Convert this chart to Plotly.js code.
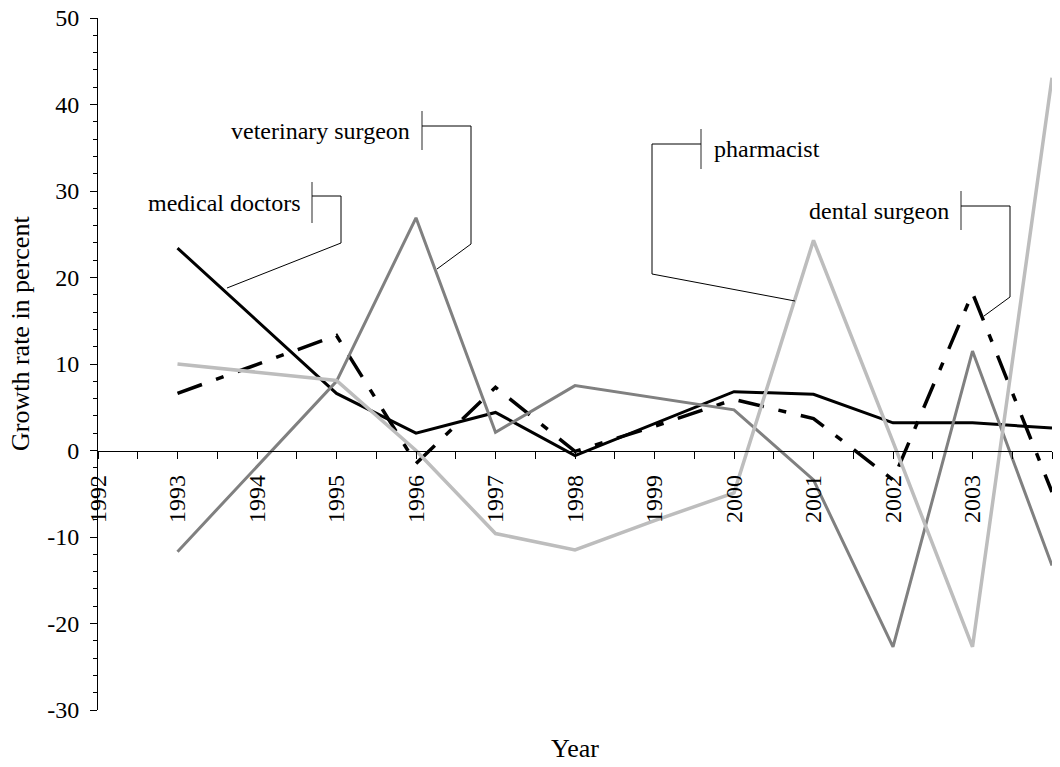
<!DOCTYPE html>
<html><head><meta charset="utf-8">
<script src="https://cdn.plot.ly/plotly-3.0.1.min.js"></script>
<style>html,body{margin:0;padding:0;background:#fff}#chart{width:1060px;height:767px}</style>
</head><body><div id="chart"></div>
<script>
// ---- data ----
const years = [1993,1994,1995,1996,1997,1998,1999,2000,2001,2002,2003,2004];
const medicalDoctors    = [23.4, 15.0,  6.6,  2.0,  4.4, -0.6,  3.1,  6.8,  6.5,   3.2,   3.2,   2.6];
const veterinarySurgeon = [-11.7, -1.8, 8.0, 26.9,  2.1,  7.5,  6.1,  4.7, -3.4, -22.7,  11.5, -13.3];
const pharmacist        = [10.0,  9.0,  8.1,  0.0, -9.6, -11.5, -8.1, -4.9, 24.3,   1.0, -22.7,  43.1];
const dentalSurgeon     = [ 6.6, 10.0, 13.3, -1.5,  7.3, -0.1,  2.8,  5.9,  3.7,  -3.4,  18.2,  -4.8];
const tickYears = [1992,1993,1994,1995,1996,1997,1998,1999,2000,2001,2002,2003,2004];
const tickLabels = tickYears.map(String);
const yTickVals = [-30,-20,-10,0,10,20,30,40,50];
const yTickLabels = ['-30','-20','-10','0','10','20','30','40','50'];
const seriesNames = ['medical doctors','veterinary surgeon','pharmacist','dental surgeon'];

// ---- layout helpers (pixel -> paper) ----
const L = 98, R = 1052, T = 18, B = 710;
const px = x => (x - L) / (R - L);
const py = y => (B - y) / (B - T);
const FONT = 'Liberation Serif, Times New Roman, serif';

const traces = [
  {x: years, y: medicalDoctors, name: seriesNames[0], mode: 'lines',
   line: {color: '#000000', width: 3}},
  {x: years, y: dentalSurgeon, name: seriesNames[3], mode: 'lines',
   line: {color: '#000000', width: 3.5, dash: '26px,15px,8px,15px'}},
  {x: years, y: veterinarySurgeon, name: seriesNames[1], mode: 'lines',
   line: {color: '#808080', width: 3}},
  {x: years, y: pharmacist, name: seriesNames[2], mode: 'lines',
   line: {color: '#bdbdbd', width: 3.5}}
];

function seg(x0, y0, x1, y1, color, width) {
  return {type: 'line', xref: 'paper', yref: 'paper',
    x0: px(x0), y0: py(y0), x1: px(x1), y1: py(y1),
    line: {color: color, width: width}};
}
function callout(bar, pts) {
  const out = [seg(bar[0], bar[1], bar[0], bar[2], '#707070', 1.5)];
  for (let i = 0; i < pts.length - 1; i++) {
    out.push(seg(pts[i][0], pts[i][1], pts[i+1][0], pts[i+1][1], '#000000', 1));
  }
  return out;
}
const shapes = [].concat(
  callout([312, 182, 223], [[312,196],[341,196],[341,243],[227,288]]),
  callout([422, 111, 150], [[422,126],[471,126],[471,244],[437,269]]),
  callout([701, 129, 169], [[701,144],[652,144],[652,274],[795,301]]),
  callout([961, 191, 230], [[961,206],[1010,206],[1010,297],[984,316]])
);

function label(text, x, y, anchor) {
  return {text: text, xref: 'paper', yref: 'paper', x: px(x), y: py(y),
    xanchor: anchor, yanchor: 'middle', showarrow: false,
    font: {family: FONT, size: 24, color: '#000'}};
}
const annotations = [
  label(seriesNames[0], 303, 203, 'right'),
  label(seriesNames[1], 412, 131, 'right'),
  label(seriesNames[2], 712, 149, 'left'),
  label(seriesNames[3], 951, 211, 'right'),
  {text: 'Year', xref: 'paper', yref: 'paper', x: 0.5, y: py(748),
   xanchor: 'center', yanchor: 'middle', showarrow: false,
   font: {family: FONT, size: 26, color: '#000'}},
  {text: 'Growth rate in percent', xref: 'paper', yref: 'paper', x: px(20), y: py(334),
   xanchor: 'center', yanchor: 'middle', textangle: -90, showarrow: false,
   font: {family: FONT, size: 26, color: '#000'}}
];

const layout = {
  width: 1060, height: 767,
  margin: {l: L, r: 1060 - R, t: T, b: 767 - B, pad: 0},
  paper_bgcolor: '#fff', plot_bgcolor: '#fff',
  showlegend: false,
  font: {family: FONT, size: 24, color: '#000'},
  xaxis: {
    range: [1992, 2004], anchor: 'free', position: 30/80,
    tickmode: 'array', tickvals: tickYears, ticktext: tickLabels,
    tickangle: -90, ticks: 'outside', ticklen: 7, tickwidth: 1, tickcolor: '#000',
    ticklabelstandoff: 7,
    minor: {dtick: 0.5, tick0: 1992, ticks: 'outside', ticklen: 7, tickwidth: 1, tickcolor: '#000'},
    showline: true, linecolor: '#000', linewidth: 1,
    showgrid: false, zeroline: false, fixedrange: true,
    tickfont: {family: FONT, size: 24, color: '#000'}
  },
  yaxis: {
    range: [-30, 50], tickmode: 'array', tickvals: yTickVals, ticktext: yTickLabels,
    ticks: 'outside', ticklen: 7, tickwidth: 1, tickcolor: '#000',
    ticklabelstandoff: 6,
    minor: {dtick: 2, tick0: 0, ticks: 'outside', ticklen: 4, tickwidth: 1, tickcolor: '#000'},
    showline: true, linecolor: '#000', linewidth: 1,
    showgrid: false, zeroline: false, fixedrange: true,
    tickfont: {family: FONT, size: 24, color: '#000'}
  },
  shapes: shapes,
  annotations: annotations
};

Plotly.newPlot('chart', traces, layout, {staticPlot: true, displayModeBar: false});
</script>
</body></html>
